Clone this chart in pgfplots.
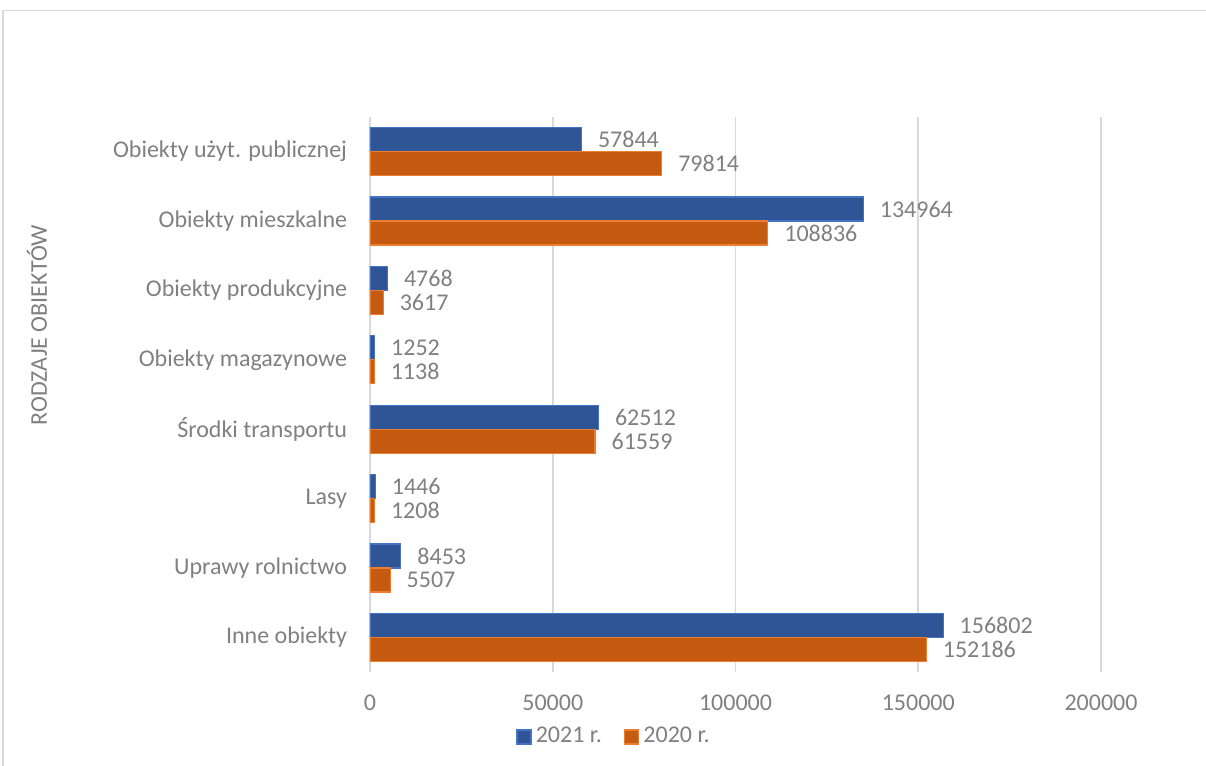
\documentclass[border=0pt]{standalone}
\usepackage{fontspec}
\setmainfont{Carlito}
\usepackage{pgfplots}
\pgfplotsset{compat=1.18}

\definecolor{bluefill}{HTML}{2F5597}
\definecolor{blueedge}{HTML}{4472C4}
\definecolor{orangefill}{HTML}{C55A11}
\definecolor{orangeedge}{HTML}{ED7D31}
\definecolor{txtgray}{HTML}{808080}
\definecolor{gridgray}{HTML}{D9D9D9}

\newcommand{\lblfont}{\fontsize{12}{14}\selectfont}

\begin{document}
\begin{tikzpicture}
\lblfont
\path[use as bounding box] (0,0) rectangle (603pt,383pt);
\draw[gridgray, line width=0.8pt] (1.5pt,0) -- (1.5pt,377.75pt) -- (603pt,377.75pt);

\begin{axis}[
  at={(185pt,47pt)}, anchor=south west,
  scale only axis, width=365.5pt, height=277.5pt,
  xbar, bar width=12pt,
  xmin=0, xmax=200000, ymin=-0.5, ymax=7.5,
  xtick={0,50000,100000,150000,200000},
  scaled x ticks=false,
  /pgf/number format/.cd, fixed, 1000 sep={}, assume math mode=true, /pgfplots/.cd,
  ytick={0,...,7},
  yticklabels={Inne obiekty, Uprawy rolnictwo, Lasy, Środki transportu,
    Obiekty magazynowe, Obiekty produkcyjne, Obiekty mieszkalne, Obiekty użyt. publicznej},
  axis line style={draw=none},
  major tick style={draw=none},
  xmajorgrids, grid style={gridgray, line width=0.8pt},
  tick label style={text=txtgray, font=\lblfont},
  xticklabel style={anchor=center, inner sep=0pt, yshift=-15.5pt},
  yticklabel style={anchor=east, inner sep=0pt, xshift=-7pt},
  ylabel={RODZAJE OBIEKTÓW},
  ylabel style={at={(axis description cs:-0.4555,0.625)}, anchor=center, text=txtgray,
    font=\lblfont},
  legend style={at={(axis description cs:0.335,-0.117)}, anchor=center, draw=none,
    legend columns=2, text=txtgray, font=\lblfont,
    /tikz/every even column/.append style={column sep=9pt}},
  legend image code/.code={\draw[#1, line width=0.8pt] (0pt,-3.5pt) rectangle (7pt,3.5pt);},
  point meta=x,
  nodes near coords,
  every node near coord/.append style={anchor=west, inner sep=0pt, xshift=8pt,
    text=txtgray, font=\lblfont},
]
\addplot[bar shift=6pt, fill=bluefill, draw=blueedge, line width=0.6pt]
  coordinates {(156802,0) (8453,1) (1446,2) (62512,3) (1252,4) (4768,5) (134964,6) (57844,7)};
\addlegendentry{2021 r.}
\addplot[bar shift=-6pt, fill=orangefill, draw=orangeedge, line width=0.6pt]
  coordinates {(152186,0) (5507,1) (1208,2) (61559,3) (1138,4) (3617,5) (108836,6) (79814,7)};
\addlegendentry{2020 r.}
\end{axis}
\end{tikzpicture}
\end{document}
